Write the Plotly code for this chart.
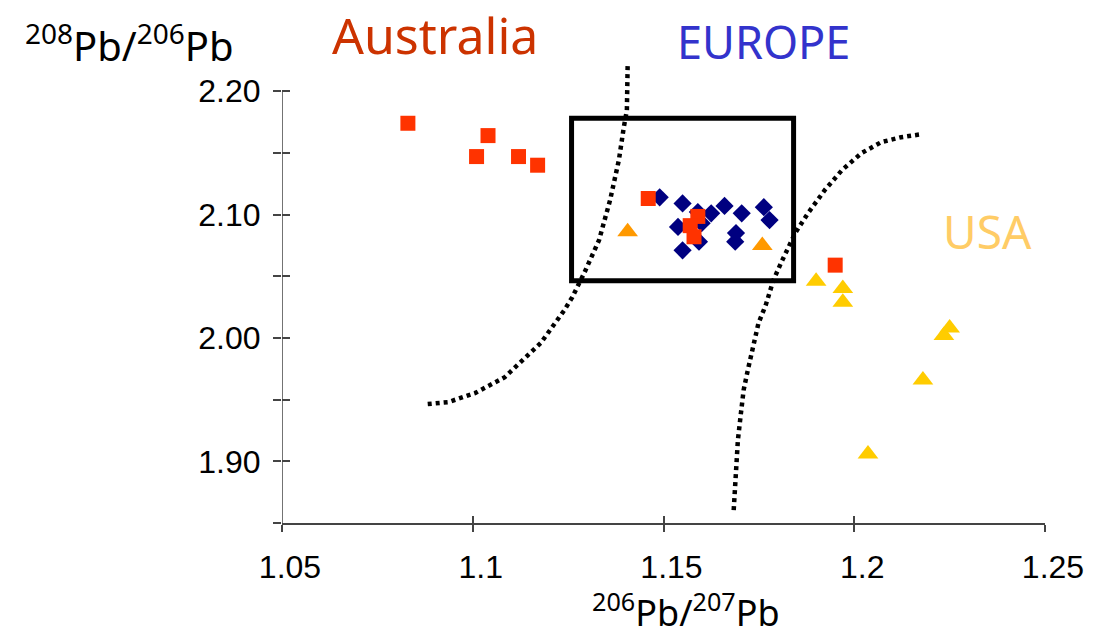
import plotly.graph_objects as go

# --- data -------------------------------------------------------------
# Australian leads (squares)
aus_x = [1.083, 1.104, 1.101, 1.112, 1.117, 1.146, 1.159, 1.157, 1.158, 1.195]
aus_y = [2.174, 2.164, 2.147, 2.147, 2.140, 2.113, 2.0985, 2.091, 2.082, 2.059]

# European leads (diamonds)
eur_x = [1.149, 1.155, 1.159, 1.1625, 1.166, 1.1705, 1.1763, 1.1778,
         1.1538, 1.160, 1.1593, 1.169, 1.1688, 1.155]
eur_y = [2.114, 2.109, 2.102, 2.101, 2.107, 2.101, 2.106, 2.0955,
         2.090, 2.093, 2.078, 2.085, 2.078, 2.071]

# US leads plotting inside the European field (orange triangles)
usa_in_x = [1.1406, 1.1759]
usa_in_y = [2.086, 2.075]

# US leads (yellow triangles)
usa_x = [1.190, 1.197, 1.197, 1.225, 1.2235, 1.218, 1.2036]
usa_y = [2.046, 2.040, 2.029, 2.008, 2.002, 1.966, 1.906]

# field boundaries (dotted)
left_bound_x = [1.1406, 1.1404, 1.1396, 1.1383, 1.1360, 1.1331, 1.1292, 1.1261,
                1.1240, 1.1178, 1.1084, 1.1006, 1.0936, 1.0877]
left_bound_y = [2.2203, 2.1846, 2.1708, 2.1441, 2.1117, 2.0792, 2.0525, 2.0331,
                2.0225, 1.9958, 1.9682, 1.9553, 1.9480, 1.9463]

right_bound_x = [1.1684, 1.1690, 1.1695, 1.1703, 1.1710, 1.1721, 1.1734, 1.1749,
                 1.1768, 1.1788, 1.1809, 1.1827, 1.1845, 1.1879, 1.1923, 1.1968,
                 1.2019, 1.2071, 1.2123, 1.2178]
right_bound_y = [1.8605, 1.8904, 1.9172, 1.9391, 1.9577, 1.9739, 1.9902, 2.0120,
                 2.0266, 2.0468, 2.0614, 2.0736, 2.0849, 2.1012, 2.1199, 2.1361,
                 2.1498, 2.1587, 2.1627, 2.1652]

# European field box
box_x = [1.1259, 1.1841]
box_y = [2.0464, 2.1781]

# axes
x_range = [1.05, 1.25]
y_range = [1.85, 2.235]
x_ticks = [1.05, 1.10, 1.15, 1.20, 1.25]
x_ticktext = ["1.05", "1.1", "1.15", "1.2", "1.25"]
y_ticks = [1.90, 2.00, 2.10, 2.20]
y_ticktext = ["1.90", "2.00", "2.10", "2.20"]
y_minor_ticks = [1.85, 1.95, 2.05, 2.15]

# --- figure -----------------------------------------------------------
FONT = "Comic Sans MS, Noto Sans, sans-serif"
TICKFONT = "Liberation Sans, Arial, sans-serif"
AXCOL = "#444444"

fig = go.Figure()

dot = dict(color="black", width=4.5, dash="4px,4px")
fig.add_trace(go.Scatter(x=left_bound_x, y=left_bound_y, mode="lines",
                         line=dot, hoverinfo="skip"))
fig.add_trace(go.Scatter(x=right_bound_x, y=right_bound_y, mode="lines",
                         line=dot, hoverinfo="skip"))

fig.add_trace(go.Scatter(x=eur_x, y=eur_y, mode="markers",
                         marker=dict(symbol="diamond", size=14, color="#000080",
                                     line=dict(width=0))))
fig.add_trace(go.Scatter(x=aus_x, y=aus_y, mode="markers",
                         marker=dict(symbol="square", size=15, color="#FF3300",
                                     line=dict(width=0))))
fig.add_trace(go.Scatter(x=usa_in_x, y=usa_in_y, mode="markers",
                         marker=dict(symbol="triangle-up", size=18, color="#FF9900",
                                     line=dict(width=0))))
fig.add_trace(go.Scatter(x=usa_x, y=usa_y, mode="markers",
                         marker=dict(symbol="triangle-up", size=18, color="#FFCC00",
                                     line=dict(width=0))))

# helper trace for the inner tick marks
fig.add_trace(go.Scatter(x=[None], y=[None], xaxis="x2", yaxis="y2",
                         mode="markers", showlegend=False, hoverinfo="skip"))

fig.add_shape(type="rect", xref="x", yref="y",
              x0=box_x[0], x1=box_x[1], y0=box_y[0], y1=box_y[1],
              line=dict(color="black", width=5))
# vertical axis line, ending at the top labelled tick
fig.add_shape(type="line", xref="x", yref="y",
              x0=x_range[0], x1=x_range[0], y0=y_range[0], y1=y_ticks[-1],
              line=dict(color=AXCOL, width=1.5))

common_x = dict(range=x_range, tickvals=x_ticks, showgrid=False, zeroline=False,
                ticklen=7, tickwidth=1.5, tickcolor=AXCOL)
common_y = dict(range=y_range, tickvals=y_ticks, showgrid=False, zeroline=False,
                ticklen=8, tickwidth=1.5, tickcolor=AXCOL)

fig.update_layout(
    width=1096, height=640,
    margin=dict(l=282, r=47, t=48, b=117),
    paper_bgcolor="white", plot_bgcolor="white",
    showlegend=False,
    xaxis=dict(**common_x, ticks="outside", ticktext=x_ticktext,
               showline=True, linecolor=AXCOL, linewidth=2,
               tickfont=dict(family=TICKFONT, size=32, color="black"),
               ticklabelshift=8, ticklabelstandoff=8),
    yaxis=dict(**common_y, ticks="outside", ticktext=y_ticktext,
               showline=False,
               minor=dict(tickvals=y_minor_ticks, ticks="outside", ticklen=8,
                          tickwidth=1.5, tickcolor=AXCOL, showgrid=False),
               tickfont=dict(family=TICKFONT, size=32, color="black"),
               ticklabelstandoff=6),
    xaxis2=dict(**common_x, overlaying="x", anchor="y2", side="bottom",
                ticks="inside", showticklabels=False, showline=False),
    yaxis2=dict(**common_y, overlaying="y", anchor="x2", side="left",
                ticks="inside", showticklabels=False, showline=False,
                minor=dict(tickvals=y_minor_ticks, ticks="inside", ticklen=8,
                           tickwidth=1.5, tickcolor=AXCOL, showgrid=False)),
)

annots = [
    dict(text="<sup>208</sup>Pb/<sup>206</sup>Pb", x=-0.2, y=1.01,
         font=dict(family=FONT, size=40, color="black")),
    dict(text="<sup>206</sup>Pb/<sup>207</sup>Pb", x=0.529, y=-0.184,
         font=dict(family=FONT, size=36, color="black")),
    dict(text="Australia", x=0.2008, y=1.028,
         font=dict(family=FONT, size=50, color="#CC3300")),
    dict(text="EUROPE", x=0.631, y=1.014,
         font=dict(family=FONT, size=45, color="#3333CC")),
    dict(text="USA", x=0.924, y=0.614,
         font=dict(family=FONT, size=46, color="#FFCC66")),
]
for a in annots:
    fig.add_annotation(xref="paper", yref="paper", showarrow=False,
                       xanchor="center", yanchor="middle", **a)

fig.write_html("out.html")
